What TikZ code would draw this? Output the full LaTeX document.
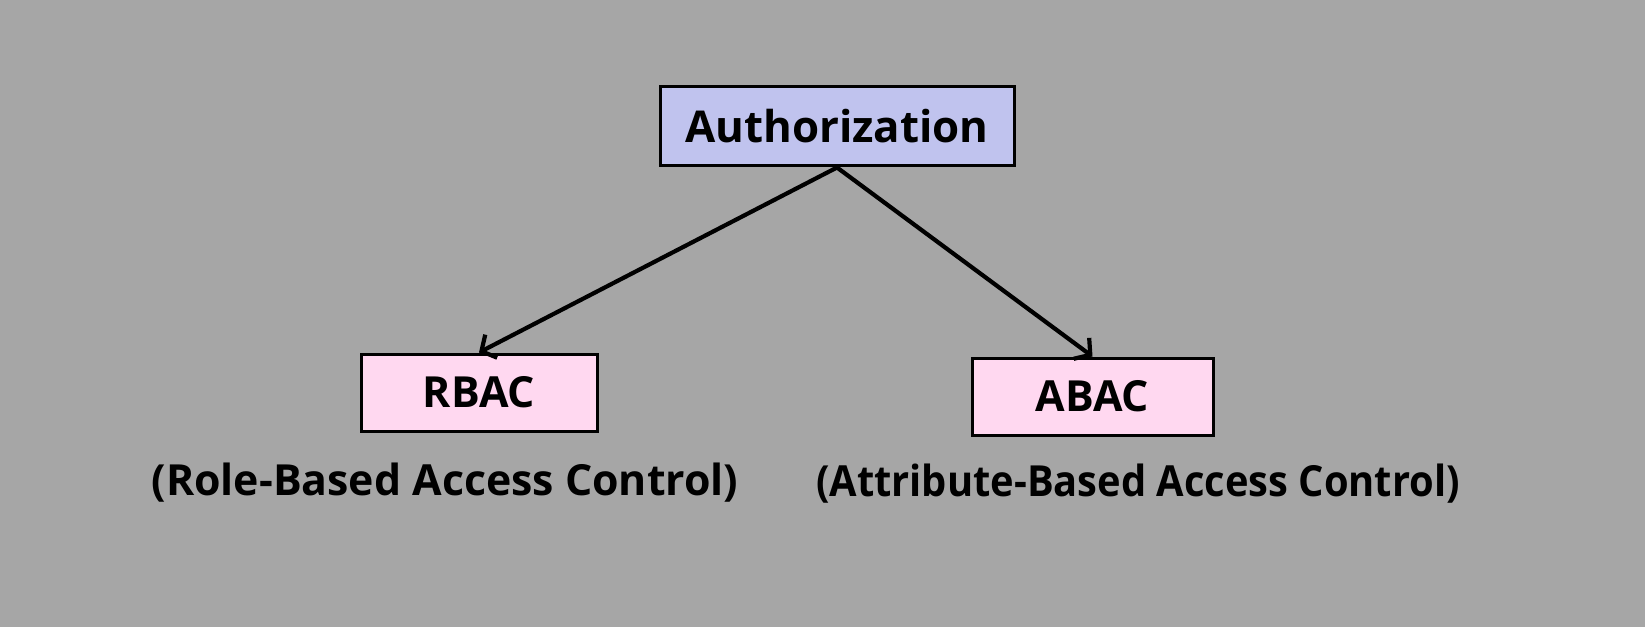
\documentclass[tikz,border=0pt]{standalone}
\usepackage{fontspec}
\setmainfont{Open Sans}
\usepackage{tikz}
\usetikzlibrary{positioning}
\usetikzlibrary{arrows.meta}

\definecolor{bgGrey}{HTML}{A6A6A6}
\definecolor{authBlue}{HTML}{C0C3EE}
\definecolor{leafPink}{HTML}{FFD8F0}

\begin{document}
\begin{tikzpicture}[
    x=1bp, y=-1bp,
    box/.style={rectangle, draw=black, line width=3bp, inner sep=0pt, font=\fontsize{44}{50}\selectfont\bfseries},
    topbox/.style={box, fill=authBlue, minimum width=354bp, minimum height=79bp},
    leafbox/.style={box, fill=leafPink, minimum height=77bp, font=\fontsize{43}{50}\selectfont\bfseries},
    caption/.style={inner sep=0pt, font=\fontsize{43}{50}\selectfont\bfseries},
    edge/.style={line width=4.2bp, black, -{Straight Barb[length=11bp, width=26bp]}}
]

    % --- background
    \fill[bgGrey] (0,0) rectangle (1645,627);
    \useasboundingbox (0,0) rectangle (1645,627);

    % --- root
    \node[topbox] (auth) at (837, 126.5) {Authorization};

    % --- left branch
    \node[leafbox, minimum width=236bp] (rbac) at (479, 392.5) {RBAC};
    \node[caption] (rbacText) at (445, 483) {(Role-Based Access Control)};

    % --- right branch
    \node[leafbox, minimum width=241bp] (abac) at (1092.5, 396.5) {ABAC};
    \node[caption, xscale=0.93] (abacText) at (1138, 484) {(Attribute-Based Access Control)};

    \draw[edge] (auth.south) -- (rbac.north);
    \draw[edge] (auth.south) -- (abac.north);

\end{tikzpicture}
\end{document}
